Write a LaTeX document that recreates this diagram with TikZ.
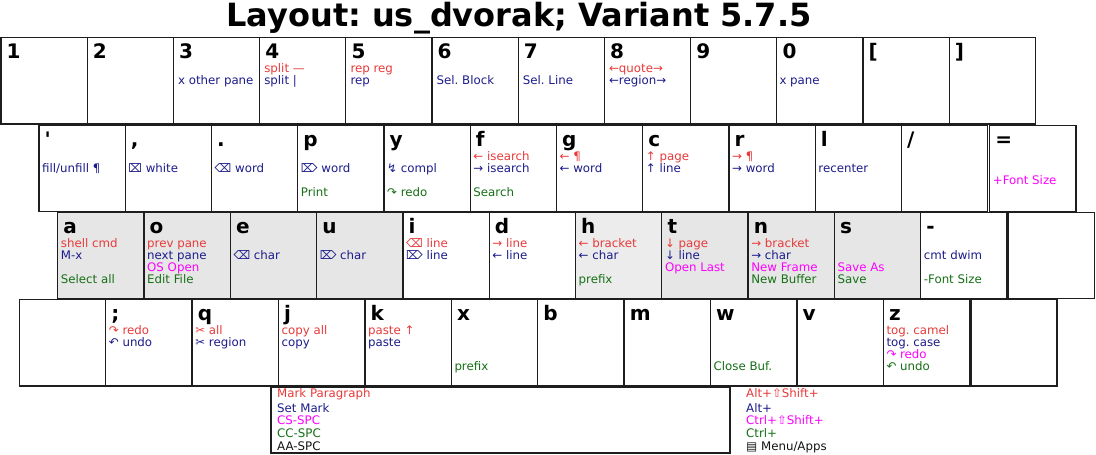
\documentclass[tikz,border=0pt]{standalone}
\usepackage{fontspec}
\setmainfont{DejaVu Sans}[Ligatures=TeXOff]
\usetikzlibrary{calc}
\frenchspacing
\definecolor{cr}{RGB}{232,58,58}
\definecolor{cb}{RGB}{28,28,140}
\definecolor{cm}{RGB}{255,0,255}
\definecolor{cg}{RGB}{22,112,22}
\definecolor{ck}{RGB}{20,20,20}
\definecolor{kgrey}{RGB}{230,230,230}
\definecolor{kgreyl}{RGB}{236,236,236}
\definecolor{kline}{RGB}{30,30,30}
\tikzset{
  keybox/.style={draw=kline, line width=1.3pt, minimum height=86.3pt, anchor=north west, inner sep=0pt, outer sep=0pt},
  keylabel/.style={anchor=base west, inner sep=0pt, font=\fontsize{20}{20}\selectfont\bfseries},
  small/.style={anchor=base west, inner sep=0pt, font=\fontsize{11.8}{12}\selectfont},
}
\newcommand\toff{3}
\newcommand\mkkey[5]{%
  \node[keybox,minimum width=#3pt,fill=#4] (#1) at (#2) {};
  \node[keylabel] (#1L) at ($(#1.north west)+(5.5,21)$) {#5};}
\newcommand\mkblank[3]{%
  \node[keybox,minimum width=#3pt,fill=white] (#1) at (#2) {};}
\newcommand\kR[2]{\node[small,text=cr] (#1R) at ($(#1.north west)+(\toff,34.7)$) {#2};}
\newcommand\kB[2]{\node[small,text=cb] (#1B) at ($(#1.north west)+(\toff,46.7)$) {#2};}
\newcommand\kM[2]{\node[small,text=cm] (#1M) at ($(#1.north west)+(\toff,58.7)$) {#2};}
\newcommand\kG[2]{\node[small,text=cg] (#1G) at ($(#1.north west)+(\toff,70.7)$) {#2};}
\begin{document}
\begin{tikzpicture}[x=1pt,y=-1pt]
\useasboundingbox (0,0) rectangle (1096,455);
\fill[white] (0,0) rectangle (1096,455);
\node[anchor=base, inner sep=0pt, font=\fontsize{32}{32}\selectfont\bfseries] (title) at (519,27) {Layout: us\_dvorak; Variant 5.7.5};

% Row 1
\renewcommand\toff{4.5}
\mkkey{k1}{1,37.7}{86.2}{white}{1}
\mkkey{k2}{87.2,37.7}{86.2}{white}{2}
\mkkey{k3}{173.4,37.7}{86.2}{white}{3}
\mkkey{k4}{259.6,37.7}{86.2}{white}{4}
\mkkey{k5}{345.8,37.7}{86.2}{white}{5}
\mkkey{k6}{432,37.7}{86.2}{white}{6}
\mkkey{k7}{518.2,37.7}{86.2}{white}{7}
\mkkey{k8}{604.4,37.7}{86.2}{white}{8}
\mkkey{k9}{690.6,37.7}{86.2}{white}{9}
\mkkey{k0}{776.8,37.7}{86.2}{white}{0}
\mkkey{klb}{863,37.7}{86.2}{white}{[}
\mkkey{krb}{949.2,37.7}{86.2}{white}{]}
\kB{k3}{x other pane}
\kR{k4}{split —}
\kB{k4}{split |}
\kR{k5}{rep reg}
\kB{k5}{rep}
\kB{k6}{Sel. Block}
\kB{k7}{Sel. Line}
\kR{k8}{←quote→}
\kB{k8}{←region→}
\renewcommand\toff{2.5}
\kB{k0}{x pane}

% Row 2
\renewcommand\toff{3}
\mkkey{kap}{39,125.3}{86.25}{white}{'}
\mkkey{kcm}{125.25,125.3}{86.25}{white}{,}
\mkkey{kdt}{211.5,125.3}{86.25}{white}{.}
\mkkey{kp}{297.75,125.3}{86.25}{white}{p}
\mkkey{ky}{384,125.3}{86.25}{white}{y}
\mkkey{kf}{470.25,125.3}{86.25}{white}{f}
\mkkey{kg}{556.5,125.3}{86.25}{white}{g}
\mkkey{kc}{642.75,125.3}{86.25}{white}{c}
\mkkey{kr}{729,125.3}{86.25}{white}{r}
\mkkey{kl}{815.25,125.3}{86.25}{white}{l}
\mkkey{ksl}{901.5,125.3}{86.25}{white}{/}
\mkkey{keq}{989.7,125.3}{86.3}{white}{=}
\kB{kap}{fill/unfill ¶}
\kB{kcm}{⌧ white}
\kB{kdt}{⌫ word}
\kB{kp}{⌦ word}
\kG{kp}{Print}
\kB{ky}{↯ compl}
\kG{ky}{↷ redo}
\kR{kf}{← isearch}
\kB{kf}{→ isearch}
\kG{kf}{Search}
\kR{kg}{← ¶}
\kB{kg}{← word}
\kR{kc}{↑ page}
\kB{kc}{↑ line}
\kR{kr}{→ ¶}
\kB{kr}{→ word}
\kB{kl}{recenter}
\kM{keq}{+Font Size}

% Row 3
\mkkey{ka}{57.7,212.5}{86.3}{kgrey}{a}
\mkkey{ko}{144,212.5}{86.3}{kgrey}{o}
\mkkey{ke}{230.3,212.5}{86.3}{kgrey}{e}
\mkkey{ku}{316.6,212.5}{86.3}{kgrey}{u}
\mkkey{ki}{402.9,212.5}{86.3}{white}{i}
\mkkey{kd}{489.2,212.5}{86.3}{white}{d}
\mkkey{kh}{575.5,212.5}{86.3}{kgreyl}{h}
\mkkey{kt}{661.8,212.5}{86.3}{kgrey}{t}
\mkkey{kn}{748.1,212.5}{86.3}{kgrey}{n}
\mkkey{ks}{834.4,212.5}{86.3}{kgrey}{s}
\mkkey{kmi}{920.7,212.5}{86.3}{white}{-}
\mkblank{kr3}{1008.5,212.5}{86}
\kR{ka}{shell cmd}
\kB{ka}{M-x}
\kG{ka}{Select all}
\kR{ko}{prev pane}
\kB{ko}{next pane}
\kM{ko}{OS Open}
\kG{ko}{Edit File}
\kB{ke}{⌫ char}
\kB{ku}{⌦ char}
\kR{ki}{⌫ line}
\kB{ki}{⌦ line}
\kR{kd}{→ line}
\kB{kd}{← line}
\kR{kh}{← bracket}
\kB{kh}{← char}
\kG{kh}{prefix}
\kR{kt}{↓ page}
\kB{kt}{↓ line}
\kM{kt}{Open Last}
\kR{kn}{→ bracket}
\kB{kn}{→ char}
\kM{kn}{New Frame}
\kG{kn}{New Buffer}
\kM{ks}{Save As}
\kG{ks}{Save}
\kB{kmi}{cmt dwim}
\kG{kmi}{-Font Size}

% Row 4
\mkblank{kl4}{19.3,299.7}{86.4}
\mkkey{ksc}{105.7,299.7}{86.4}{white}{;}
\mkkey{kq}{192.1,299.7}{86.4}{white}{q}
\mkkey{kj}{278.5,299.7}{86.4}{white}{j}
\mkkey{kk}{364.9,299.7}{86.4}{white}{k}
\mkkey{kx}{451.3,299.7}{86.4}{white}{x}
\mkkey{kb}{537.7,299.7}{86.4}{white}{b}
\mkkey{km}{624.1,299.7}{86.4}{white}{m}
\mkkey{kw}{710.5,299.7}{86.4}{white}{w}
\mkkey{kv}{796.9,299.7}{86.4}{white}{v}
\mkkey{kz}{883.3,299.7}{86.4}{white}{z}
\mkblank{kr4}{971,299.7}{86}
\kR{ksc}{↷ redo}
\kB{ksc}{↶ undo}
\kR{kq}{✂ all}
\kB{kq}{✂ region}
\kR{kj}{copy all}
\kB{kj}{copy}
\kR{kk}{paste ↑}
\kB{kk}{paste}
\kG{kx}{prefix}
\kG{kw}{Close Buf.}
\kR{kz}{tog. camel}
\kB{kz}{tog. case}
\kM{kz}{↷ redo}
\kG{kz}{↶ undo}

% Space bar / legend
\node[keybox, minimum width=459pt, minimum height=66pt, fill=white] (space) at (271,387) {};
\node[small,text=cr] (lg1) at ($(space.north west)+(6,10.3)$) {Mark Paragraph};
\node[small,text=cb] (lg2) at ($(space.north west)+(6,25)$) {Set Mark};
\node[small,text=cm] (lg3) at ($(space.north west)+(6,37.5)$) {CS-SPC};
\node[small,text=cg] (lg4) at ($(space.north west)+(6,50.3)$) {CC-SPC};
\node[small,text=ck] (lg5) at ($(space.north west)+(6,63)$) {AA-SPC};
\node[small,text=cr] (md1) at ($(space.north east)+(16,10.3)$) {Alt+⇧Shift+};
\node[small,text=cb] (md2) at ($(space.north east)+(16,25)$) {Alt+};
\node[small,text=cm] (md3) at ($(space.north east)+(16,37.5)$) {Ctrl+⇧Shift+};
\node[small,text=cg] (md4) at ($(space.north east)+(16,50.8)$) {Ctrl+};
\node[small,text=ck] (md5) at ($(space.north east)+(16,63)$) {▤ Menu/Apps};
\end{tikzpicture}
\end{document}
